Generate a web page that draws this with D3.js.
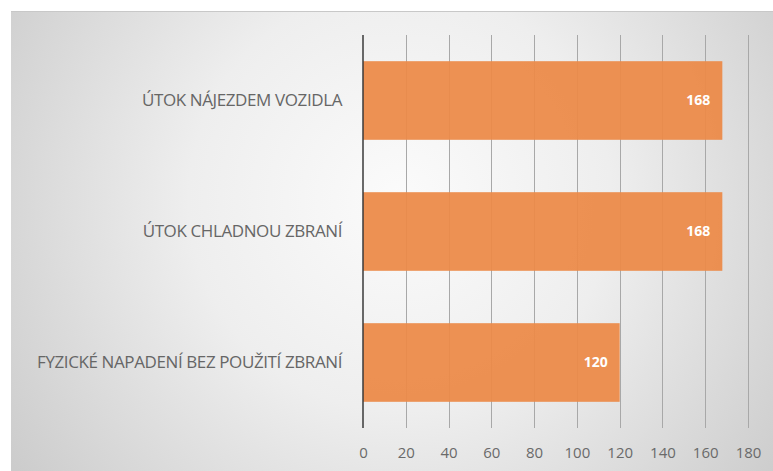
<!DOCTYPE html>
<html><head><meta charset="utf-8">
<script src="https://cdn.jsdelivr.net/npm/d3@7"></script>
<style>html,body{margin:0;padding:0;background:#fff;}svg{display:block;}</style>
</head><body>
<svg id="chart" width="773" height="471"></svg>
<script>
const categories = ["ÚTOK NÁJEZDEM VOZIDLA", "ÚTOK CHLADNOU ZBRANÍ", "FYZICKÉ NAPADENÍ BEZ POUŽITÍ ZBRANÍ"];
const values = [168, 168, 120];
const tickValues = [0, 20, 40, 60, 80, 100, 120, 140, 160, 180];

const svg = d3.select("#chart");
const W = 773, H = 471;

const defs = svg.append("defs");
const grad = defs.append("radialGradient").attr("id", "bg")
  .attr("gradientUnits", "userSpaceOnUse")
  .attr("cx", 400).attr("cy", 200).attr("r", 470);
grad.append("stop").attr("offset", "0").attr("stop-color", "#fbfbfb");
grad.append("stop").attr("offset", "0.45").attr("stop-color", "#eeeeee");
grad.append("stop").attr("offset", "1").attr("stop-color", "#cccccc");

svg.append("rect").attr("x", 11).attr("y", 11).attr("width", W - 11).attr("height", H - 11)
  .attr("fill", "url(#bg)");
svg.append("line").attr("x1", 11).attr("x2", W).attr("y1", 11.5).attr("y2", 11.5)
  .attr("stroke", "#c8c8c8").attr("stroke-width", 1);

const x = d3.scaleLinear().domain([0, 180]).range([363, 748]);
const y = d3.scaleBand().domain(categories).range([35, 428]).paddingInner(0.4).paddingOuter(0.2);

// gridlines
svg.append("g").selectAll("line").data(tickValues.slice(1)).join("line")
  .attr("x1", d => Math.round(x(d)) + 0.5).attr("x2", d => Math.round(x(d)) + 0.5)
  .attr("y1", 35).attr("y2", 428)
  .attr("stroke", "#a8a8a8").attr("stroke-width", 1);

// bars
svg.append("g").selectAll("rect").data(values).join("rect")
  .attr("x", x(0)).attr("y", (d, i) => y(categories[i]))
  .attr("width", d => x(d) - x(0)).attr("height", y.bandwidth())
  .attr("fill", "#ec8a48").attr("fill-opacity", 0.94);

// axis line
svg.append("line").attr("x1", x(0)).attr("x2", x(0)).attr("y1", 35).attr("y2", 428)
  .attr("stroke", "#3a3a3a").attr("stroke-width", 1.5);

// x axis labels
const xAxis = d3.axisBottom(x).tickValues(tickValues).tickSize(0).tickPadding(0);
const gx = svg.append("g").attr("transform", "translate(0,445)").call(xAxis);
gx.select(".domain").remove();
gx.selectAll("text").attr("fill", "#6a6a6a").attr("font-family", "Open Sans, sans-serif")
  .attr("font-size", 15).attr("dy", "0.85em");

// category labels
const yAxis = d3.axisLeft(y).tickSize(0).tickPadding(21);
const gy = svg.append("g").attr("transform", `translate(${x(0)},0)`).call(yAxis);
gy.select(".domain").remove();
gy.selectAll("text").attr("fill", "#666666").attr("font-family", "Open Sans, sans-serif")
  .attr("font-size", 17).attr("letter-spacing", "-0.4");

// data labels
svg.append("g").selectAll("text").data(values).join("text")
  .attr("x", d => x(d) - 12).attr("y", (d, i) => y(categories[i]) + y.bandwidth() / 2)
  .attr("dy", "0.35em").attr("text-anchor", "end")
  .attr("fill", "#ffffff").attr("font-weight", "bold")
  .attr("font-family", "Open Sans, sans-serif").attr("font-size", 14)
  .text(d => d);
</script>
</body></html>
